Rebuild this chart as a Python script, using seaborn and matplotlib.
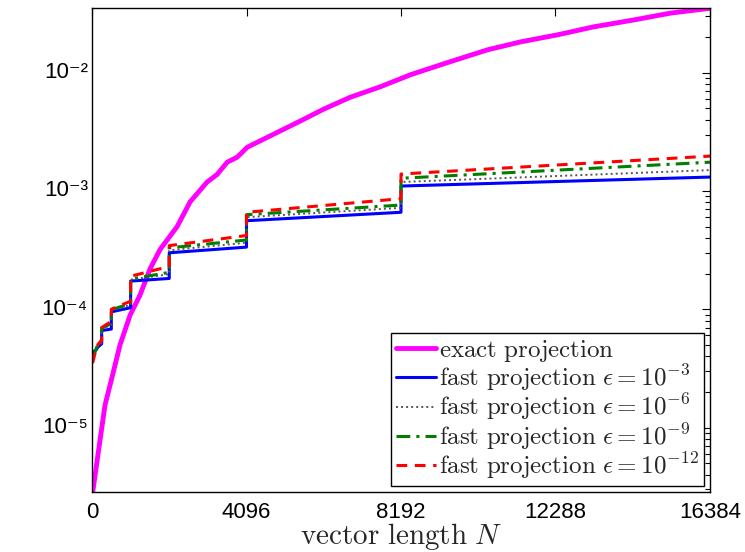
import numpy as np
import pandas as pd
import matplotlib
matplotlib.use("Agg")
import matplotlib.pyplot as plt
from matplotlib.ticker import (FixedLocator, FuncFormatter, LogLocator,
                               NullFormatter, NullLocator)
import seaborn as sns

# ---- data -------------------------------------------------------------
n_exact = [16, 212, 345, 523, 743, 1009, 1274, 1540, 1805, 2257, 2602, 3053,
           3319, 3584, 3850, 4115, 5522, 6133, 6850, 7646, 8443, 9505, 10487,
           11363, 12346, 13302, 14364, 15346, 16384]
t_exact = [2.8e-6, 7.8e-6, 1.55e-5, 2.6e-5, 5.0e-5, 8.9e-5, 1.32e-4, 2.2e-4,
           3.2e-4, 5.0e-4, 8.1e-4, 1.19e-3, 1.38e-3, 1.75e-3, 1.93e-3, 2.34e-3,
           3.9e-3, 4.9e-3, 6.2e-3, 7.6e-3, 9.6e-3, 1.24e-2, 1.56e-2, 1.82e-2,
           2.09e-2, 2.44e-2, 2.79e-2, 3.19e-2, 3.5e-2]

n_fast = [16, 128, 128, 256, 256, 512, 512, 1024, 1024, 2048, 2048, 4096,
          4096, 8192, 8192, 16384]
t_fast_e3 = [4.3e-5, 4.6e-5, 4.7e-5, 5.1e-5, 6.6e-5, 6.8e-5, 9.5e-5, 1.03e-4,
             1.73e-4, 1.82e-4, 3.0e-4, 3.35e-4, 5.6e-4, 6.6e-4, 1.1e-3, 1.31e-3]
t_fast_e6 = [4.0e-5, 4.7e-5, 4.8e-5, 5.2e-5, 6.8e-5, 7.4e-5, 9.8e-5, 1.09e-4,
             1.78e-4, 1.98e-4, 3.15e-4, 3.65e-4, 6.0e-4, 7.2e-4, 1.19e-3, 1.5e-3]
t_fast_e9 = [3.8e-5, 4.8e-5, 4.8e-5, 5.3e-5, 6.9e-5, 7.6e-5, 9.9e-5, 1.12e-4,
             1.8e-4, 2.05e-4, 3.3e-4, 3.85e-4, 6.3e-4, 7.6e-4, 1.28e-3, 1.75e-3]
t_fast_e12 = [3.5e-5, 4.9e-5, 4.9e-5, 5.5e-5, 7.0e-5, 7.9e-5, 1.0e-4, 1.17e-4,
              1.9e-4, 2.3e-4, 3.45e-4, 4.2e-4, 6.6e-4, 8.6e-4, 1.39e-3, 1.97e-3]

x_ticks = [0, 4096, 8192, 12288, 16384]
y_ticks = [1e-5, 1e-4, 1e-3, 1e-2]
labels = [r"$\mathrm{exact\ projection}$",
          r"$\mathrm{fast\ projection}\ \epsilon = 10^{-3}$",
          r"$\mathrm{fast\ projection}\ \epsilon = 10^{-6}$",
          r"$\mathrm{fast\ projection}\ \epsilon = 10^{-9}$",
          r"$\mathrm{fast\ projection}\ \epsilon = 10^{-12}$"]

SUPERSCRIPT = str.maketrans("-0123456789",
                            "\u207b\u2070\u00b9\u00b2\u00b3\u2074\u2075\u2076\u2077\u2078\u2079")


def power_label(v):
    return "10" + str(int(round(np.log10(v)))).translate(SUPERSCRIPT)


# ---- style ------------------------------------------------------------
sns.set_theme(style="white")
plt.rcParams.update({
    "font.family": ["Liberation Sans", "DejaVu Sans"],
    "mathtext.fontset": "cm",
    "xtick.direction": "in", "ytick.direction": "in",
    "xtick.top": True, "ytick.right": True,
    "ytick.labelleft": False,
    "xtick.color": "black", "ytick.color": "black",
    "xtick.labelsize": 16, "ytick.labelsize": 16,
    "xtick.major.size": 6, "ytick.major.size": 6,
    "ytick.minor.size": 3.5,
    "xtick.major.width": 0.8, "ytick.major.width": 0.8, "ytick.minor.width": 0.8,
    "xtick.major.pad": 7, "ytick.major.pad": 3,
    "axes.edgecolor": "black", "axes.linewidth": 1.0,
})

fig = plt.figure(figsize=(7.45, 5.52), dpi=100)
ax = fig.add_axes([0.1235, 0.1087, 0.953 - 0.1235, 0.9855 - 0.1087])

series = [
    (n_exact, t_exact, dict(color="#ff00ff", lw=3.5, ls="-")),
    (n_fast, t_fast_e3, dict(color="#0000ff", lw=2.2, ls="-")),
    (n_fast, t_fast_e6, dict(color="#555555", lw=1.4, ls=(0, (1, 1.6)))),
    (n_fast, t_fast_e9, dict(color="#007f00", lw=2.2, ls=(0, (4.5, 2, 1, 2)))),
    (n_fast, t_fast_e12, dict(color="#ff0000", lw=2.2, ls=(0, (3.5, 2.5)))),
]
for (xs, ys, kw), lab in zip(series, labels):
    df = pd.DataFrame({"N": xs, "t": ys})
    sns.lineplot(data=df, x="N", y="t", ax=ax, estimator=None, sort=False,
                 label=lab, color=kw["color"], linewidth=kw["lw"],
                 linestyle=kw["ls"])

ax.set_yscale("log")
ax.set_xlim(0, 16384)
ax.set_ylim(2.85e-6, 3.52e-2)
ax.xaxis.set_major_locator(FixedLocator(x_ticks))
ax.xaxis.set_minor_locator(NullLocator())
ax.xaxis.set_major_formatter(FuncFormatter(lambda v, pos: "%d" % v))
ax.yaxis.set_major_locator(FixedLocator(y_ticks))
ax.yaxis.set_major_formatter(NullFormatter())
ax.yaxis.set_minor_locator(LogLocator(base=10, subs=np.arange(2, 10), numticks=10))
ax.yaxis.set_minor_formatter(NullFormatter())
ax.tick_params(axis="y", which="both", labelleft=False)

# decade labels, set just left of the y axis at each major tick
for v in y_ticks:
    ax.annotate(power_label(v), xy=(0, v), xycoords=("axes fraction", "data"),
                xytext=(-3, 0), textcoords="offset points", ha="right",
                va="center", fontsize=16, color="black", annotation_clip=False)

ax.set_xlabel(r"$\mathrm{vector\ length}\ N$", fontsize=21, labelpad=-1)
ax.set_ylabel(r"$\mathrm{average\ time\ (sec)}$", fontsize=21)
ax.yaxis.set_label_coords(-0.088, 0.5)

leg = ax.legend(loc="lower right", fontsize=18,
                frameon=True, fancybox=False, edgecolor="black", framealpha=1,
                handlelength=1.6, handletextpad=0.12, borderaxespad=0.25,
                borderpad=0.2, labelspacing=-0.06)
leg.get_frame().set_linewidth(1.0)

fig.savefig("out.png", dpi=100)
